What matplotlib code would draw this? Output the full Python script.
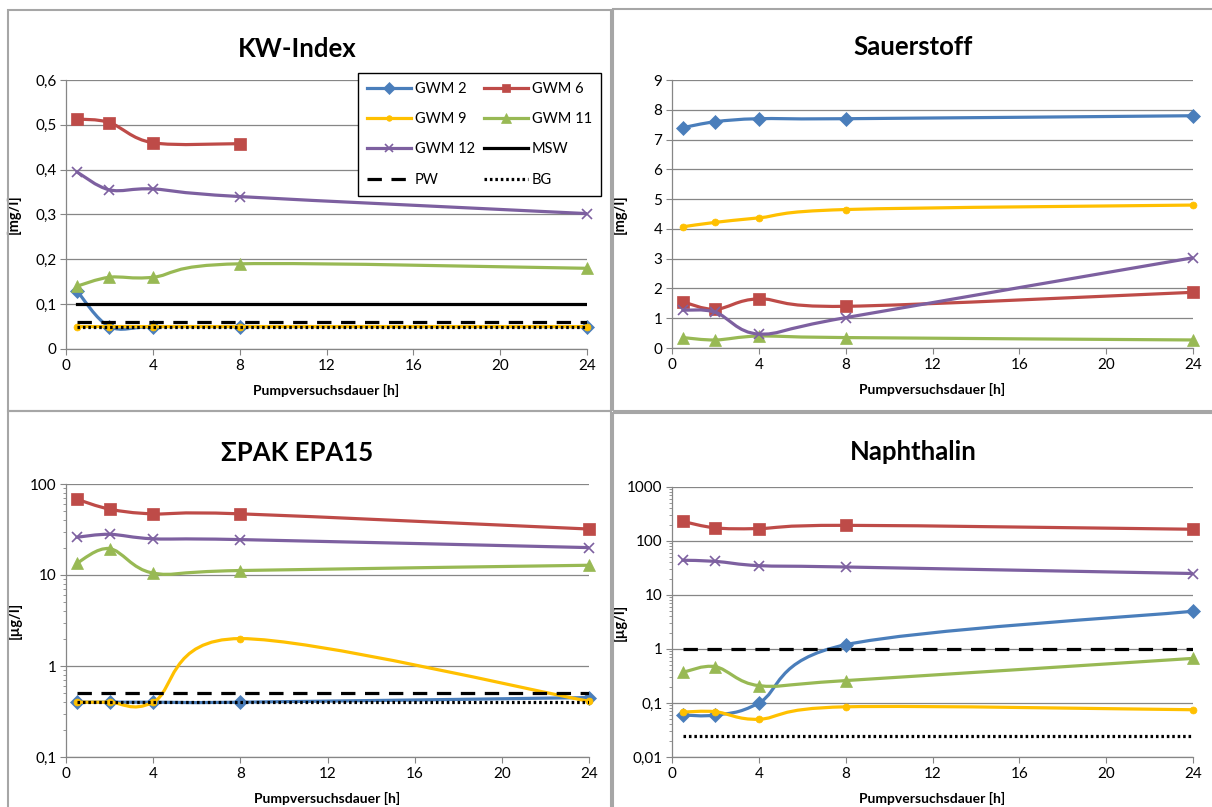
import numpy as np
import matplotlib
matplotlib.use('Agg')
import matplotlib.pyplot as plt
from matplotlib.path import Path
from matplotlib.patches import PathPatch, Rectangle
from matplotlib.lines import Line2D
from matplotlib.ticker import FuncFormatter, LogLocator, MultipleLocator, NullFormatter

# Pumpversuch - Messwerte je Grundwassermessstelle
hours = [0.5, 2, 4, 8, 24]
wells = ['GWM 2', 'GWM 6', 'GWM 9', 'GWM 11', 'GWM 12']

kw_gwm2 = [0.13, 0.05, 0.05, 0.05, 0.05]
kw_gwm6 = [0.513, 0.505, 0.46, 0.458, None]
kw_gwm9 = [0.05, 0.05, 0.05, 0.05, 0.05]
kw_gwm11 = [0.14, 0.16, 0.16, 0.19, 0.18]
kw_gwm12 = [0.395, 0.355, 0.357, 0.34, 0.302]
kw_msw = [0.1, 0.1, 0.1, 0.1, 0.1]
kw_pw = [0.06, 0.06, 0.06, 0.06, 0.06]
kw_bg = [0.05, 0.05, 0.05, 0.05, 0.05]

o2_gwm2 = [7.4, 7.6, 7.7, 7.7, 7.8]
o2_gwm6 = [1.55, 1.3, 1.65, 1.4, 1.87]
o2_gwm9 = [4.07, 4.22, 4.37, 4.65, 4.8]
o2_gwm11 = [0.35, 0.27, 0.4, 0.35, 0.27]
o2_gwm12 = [1.27, 1.2, 0.47, 1.02, 3.03]

pak_gwm2 = [0.4, 0.4, 0.4, 0.4, 0.45]
pak_gwm6 = [68, 53, 47, 47, 32]
pak_gwm9 = [0.4, 0.4, 0.4, 2.0, 0.41]
pak_gwm11 = [13.5, 19.5, 10.5, 11.2, 12.8]
pak_gwm12 = [26, 28, 25, 24.5, 20]
pak_pw = [0.5, 0.5, 0.5, 0.5, 0.5]
pak_bg = [0.4, 0.4, 0.4, 0.4, 0.4]

nap_gwm2 = [0.06, 0.06, 0.1, 1.2, 5.0]
nap_gwm6 = [230, 175, 170, 195, 165]
nap_gwm9 = [0.068, 0.069, 0.05, 0.085, 0.075]
nap_gwm11 = [0.37, 0.47, 0.21, 0.26, 0.67]
nap_gwm12 = [44, 42, 35, 33, 25]
nap_pw = [1, 1, 1, 1, 1]
nap_bg = [0.025, 0.025, 0.025, 0.025, 0.025]

colors = ['#4a7ebb', '#be4b48', '#ffc000', '#98b954', '#7d60a0']
markers = ['D', 's', 'o', '^', 'x']
msizes = [7.5, 8, 5, 8.5, 7]
PW_DASH = (0, (4.5, 3))
BG_DOT = (0, (0.8, 0.9))

W, H = 1212, 807
plt.rcParams['font.family'] = ['Lato', 'DejaVu Sans']
fig = plt.figure(figsize=(W / 100, H / 100), dpi=100)

# grey chart borders
for (l, t, r, b) in [(8, 10, 611, 411), (613, 9, 1215, 411), (8, 411, 611, 812), (613, 413, 1215, 812)]:
    fig.patches.append(Rectangle((l / W, 1 - b / H), (r - l) / W, (b - t) / H, transform=fig.transFigure,
                                 fill=False, edgecolor='#a6a6a6', lw=1.5))


def make_ax(l, t, r, b):
    return fig.add_axes([l / W, 1 - b / H, (r - l) / W, (b - t) / H])


def smooth(ax, xs, ys, log, color, z):
    pts = np.array([(x, np.log10(y) if log else y) for x, y in zip(xs, ys) if y is not None])
    n = len(pts)
    verts = [pts[0]]
    codes = [Path.MOVETO]
    for i in range(n - 1):
        p0, p1, p2, p3 = pts[max(i - 1, 0)], pts[i], pts[i + 1], pts[min(i + 2, n - 1)]
        verts += [p1 + (p2 - p0) / 6, p2 - (p3 - p1) / 6, p2]
        codes += [Path.CURVE4] * 3
    v = np.array(verts)
    if log:
        v[:, 1] = 10 ** v[:, 1]
    ax.add_patch(PathPatch(Path(v, codes), fill=False, edgecolor=color, lw=2.3,
                           capstyle='round', joinstyle='round', zorder=z))


def comma(v, pos):
    return ('%g' % v).replace('.', ',')


def setup(ax, title, tx, ty, ylabel, ylab_x, log, ylim, ystep=None):
    ax.set_xlim(0, 24)
    ax.set_ylim(*ylim)
    ax.xaxis.set_major_locator(MultipleLocator(4))
    if log:
        ax.set_yscale('log')
        ax.yaxis.set_major_locator(LogLocator(base=10))
        ax.yaxis.set_minor_locator(LogLocator(base=10, subs=np.arange(2, 10)))
        ax.yaxis.set_minor_formatter(NullFormatter())
    else:
        ax.yaxis.set_major_locator(MultipleLocator(ystep))
    ax.yaxis.set_major_formatter(FuncFormatter(comma))
    ax.grid(axis='y', which='major', color='#868686', lw=0.9)
    ax.set_axisbelow(True)
    for s in ['top', 'right']:
        ax.spines[s].set_visible(False)
    for s in ['left', 'bottom']:
        ax.spines[s].set_color('#868686')
        ax.spines[s].set_linewidth(0.9)
    ax.tick_params(which='major', direction='out', length=4, color='#868686', labelsize=11, pad=3)
    ax.tick_params(which='minor', direction='out', length=2.5, color='#868686')
    fig.text(tx / W, 1 - ty / H, title, fontsize=18.5, fontweight='bold', ha='center', va='center')
    ax.set_xlabel('Pumpversuchsdauer [h]', fontsize=10, fontweight='bold', labelpad=8)
    ax.set_ylabel(ylabel, fontsize=10.5, fontweight='bold')
    bb = ax.get_position()
    ax.yaxis.set_label_coords((ylab_x / W - bb.x0) / bb.width, 0.5)


def draw(ax, series, log, refs):
    for i, ys in enumerate(series):
        smooth(ax, hours, ys, log, colors[i], 3 + i)
        xs = [x for x, y in zip(hours, ys) if y is not None]
        yv = [y for y in ys if y is not None]
        ax.plot(xs, yv, linestyle='none', marker=markers[i], ms=msizes[i], color=colors[i],
                mew=1.2 if markers[i] == 'x' else 0.5, zorder=3 + i, clip_on=False)
    for name, ys in refs:
        ls = {'MSW': '-', 'PW': PW_DASH, 'BG': BG_DOT}[name]
        ax.plot(hours, ys, color='black', lw=2.3, linestyle=ls, zorder=10)


ax1 = make_ax(66, 80, 587, 349)
setup(ax1, 'KW-Index', 297, 49, '[mg/l]', 21, False, (0, 0.6), 0.1)
draw(ax1, [kw_gwm2, kw_gwm6, kw_gwm9, kw_gwm11, kw_gwm12], False,
     [('MSW', kw_msw), ('PW', kw_pw), ('BG', kw_bg)])

ax2 = make_ax(672, 80, 1193, 348)
setup(ax2, 'Sauerstoff', 913, 47, '[mg/l]', 627, False, (0, 9), 1)
draw(ax2, [o2_gwm2, o2_gwm6, o2_gwm9, o2_gwm11, o2_gwm12], False, [])

ax3 = make_ax(66, 484, 589, 757)
setup(ax3, '\u03a3PAK EPA15', 297, 453, '[\u00b5g/l]', 22, True, (0.1, 100))
draw(ax3, [pak_gwm2, pak_gwm6, pak_gwm9, pak_gwm11, pak_gwm12], True,
     [('PW', pak_pw), ('BG', pak_bg)])

ax4 = make_ax(672, 487, 1193, 757)
setup(ax4, 'Naphthalin', 913, 452, '[\u00b5g/l]', 627, True, (0.01, 1000))
draw(ax4, [nap_gwm2, nap_gwm6, nap_gwm9, nap_gwm11, nap_gwm12], True,
     [('PW', nap_pw), ('BG', nap_bg)])

# legend in the first chart (Excel fills it row by row)
handles = {}
for i in range(5):
    handles[wells[i]] = Line2D([0], [0], color=colors[i], lw=2.3, marker=markers[i], ms=msizes[i] * 0.8,
                               mew=1.2 if markers[i] == 'x' else 0.5)
handles['MSW'] = Line2D([0], [0], color='black', lw=2.3)
handles['PW'] = Line2D([0], [0], color='black', lw=2.3, linestyle=PW_DASH)
handles['BG'] = Line2D([0], [0], color='black', lw=2.3, linestyle=BG_DOT)
leg_order = ['GWM 2', 'GWM 9', 'GWM 12', 'PW', 'GWM 6', 'GWM 11', 'MSW', 'BG']
leg = ax1.legend([handles[k] for k in leg_order], leg_order,
                 ncol=2, loc='upper left', bbox_to_anchor=(358 / W, 1 - 73 / H),
                 bbox_transform=fig.transFigure, fontsize=10.5, frameon=True, fancybox=False,
                 edgecolor='black', framealpha=1, handlelength=3.0, handletextpad=0.3,
                 labelspacing=1.12, columnspacing=0.6, borderpad=0.6, borderaxespad=0)
leg.get_frame().set_linewidth(1.0)
leg.set_zorder(20)

fig.savefig('out.png', dpi=100)
